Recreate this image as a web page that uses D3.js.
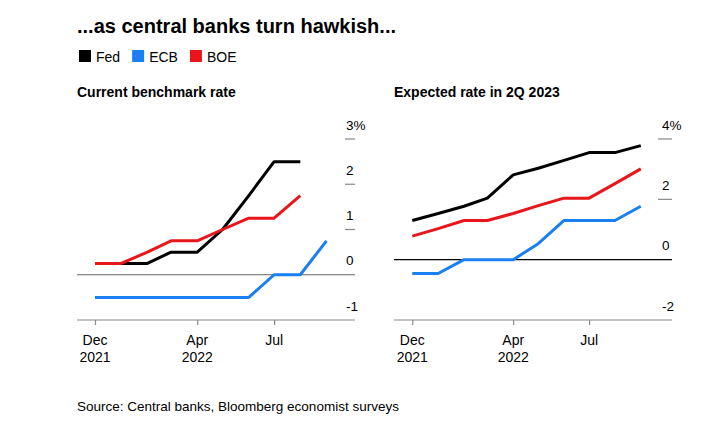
<!DOCTYPE html>
<html>
<head>
<meta charset="utf-8">
<script src="https://cdn.jsdelivr.net/npm/d3@7"></script>
<style>
  html, body { margin: 0; padding: 0; background: #fff; }
  svg { display: block; font-family: "Liberation Sans", Arial, sans-serif; }
</style>
</head>
<body>
<svg id="chart" width="713" height="435"></svg>
<script>
// ---- Data ----
const months = ["2021-12-01","2022-01-01","2022-02-01","2022-03-01","2022-04-01",
                "2022-05-01","2022-06-01","2022-07-01","2022-08-01","2022-09-01"];

// Current benchmark rate (%)
const currentFed = [0.25, 0.25, 0.25, 0.5, 0.5, 1.0, 1.75, 2.5, 2.5];
const currentECB = [-0.5, -0.5, -0.5, -0.5, -0.5, -0.5, -0.5, 0, 0, 0.75];
const currentBOE = [0.25, 0.25, 0.5, 0.75, 0.75, 1.0, 1.25, 1.25, 1.75];

// Expected rate in 2Q 2023 (%)
const expectedFed = [1.30, 1.53, 1.77, 2.04, 2.81, 3.03, 3.29, 3.55, 3.55, 3.78];
const expectedECB = [-0.46, -0.46, 0.0, 0.0, 0.0, 0.53, 1.30, 1.30, 1.30, 1.77];
const expectedBOE = [0.78, 1.03, 1.30, 1.30, 1.53, 1.79, 2.04, 2.04, 2.52, 3.01];

const seriesNames = ["Fed", "ECB", "BOE"];
const seriesColors = ["#000000", "#1a7ff0", "#e8161b"];

const leftTicks = [-1, 0, 1, 2, 3];
const rightTicks = [-2, 0, 2, 4];
const xTickDates = ["2021-12-01", "2022-04-01", "2022-07-01"];
const xTickLabels = [["Dec", "2021"], ["Apr", "2022"], ["Jul", ""]];

const titleText = "...as central banks turn hawkish...";
const leftSubtitle = "Current benchmark rate";
const rightSubtitle = "Expected rate in 2Q 2023";
const sourceText = "Source: Central banks, Bloomberg economist surveys";

// ---- Drawing ----
const parse = d3.timeParse("%Y-%m-%d");
const dates = months.map(parse);
const svg = d3.select("#chart");

svg.append("text").attr("x", 77).attr("y", 33).attr("font-size", 20)
  .attr("font-weight", "bold").attr("fill", "#000").text(titleText);

// legend
const legend = svg.append("g").attr("transform", "translate(79,50)");
let lx = 0;
seriesNames.forEach((name, i) => {
  const g = legend.append("g").attr("transform", `translate(${lx},0)`);
  g.append("rect").attr("width", 12).attr("height", 12).attr("fill", seriesColors[i]);
  const t = g.append("text").attr("x", 17).attr("y", 12).attr("font-size", 14)
    .attr("fill", "#000").text(name);
  lx += 17 + t.node().getComputedTextLength() + 12;
});

function panel(cfg) {
  const g = svg.append("g");
  g.append("text").attr("x", cfg.left).attr("y", 97).attr("font-size", 14)
    .attr("font-weight", "bold").attr("fill", "#000").text(cfg.subtitle);

  const x = d3.scaleTime().domain([dates[0], dates[9]]).range(cfg.xRange);
  const y = d3.scaleLinear().domain(cfg.yDomain).range([320, 139]);

  // y ticks (short dashes + labels above)
  cfg.yTicks.forEach(v => {
    if (v !== cfg.yDomain[0] && v !== 0) {
      g.append("line").attr("x1", cfg.tickX[0]).attr("x2", cfg.tickX[1])
        .attr("y1", y(v)).attr("y2", y(v)).attr("stroke", "#888").attr("stroke-width", 1.2);
    }
    g.append("text").attr("x", cfg.labelX).attr("y", y(v) - 9.5)
      .attr("font-size", 13.5).attr("fill", "#000")
      .text(v === cfg.yDomain[1] ? v + "%" : (v < 0 ? "-" + Math.abs(v) : v));
  });

  // zero line
  g.append("line").attr("x1", cfg.left).attr("x2", cfg.right)
    .attr("y1", y(0)).attr("y2", y(0)).attr("stroke", cfg.zeroColor).attr("stroke-width", 1.2);

  // bottom axis
  const xAxis = d3.axisBottom(x).tickValues(xTickDates.map(parse)).tickSize(5).tickFormat("");
  const ax = g.append("g").attr("transform", `translate(0,${y(cfg.yDomain[0])})`).call(xAxis);
  ax.select(".domain").remove();
  ax.selectAll(".tick line").attr("stroke", "#888").attr("stroke-width", 1.2);
  g.append("line").attr("x1", cfg.left).attr("x2", cfg.right)
    .attr("y1", y(cfg.yDomain[0])).attr("y2", y(cfg.yDomain[0]))
    .attr("stroke", "#888").attr("stroke-width", 1.2);

  xTickDates.forEach((d, i) => {
    const xx = x(parse(d));
    g.append("text").attr("x", xx).attr("y", 344.5).attr("text-anchor", "middle")
      .attr("font-size", 14).attr("fill", "#000").text(xTickLabels[i][0]);
    g.append("text").attr("x", xx).attr("y", 361.5).attr("text-anchor", "middle")
      .attr("font-size", 14).attr("fill", "#000").text(xTickLabels[i][1]);
  });

  const line = d3.line().x((d, i) => x(dates[i])).y(d => y(d));
  // draw order: ECB, Fed, BOE
  [[1, cfg.data[1]], [0, cfg.data[0]], [2, cfg.data[2]]].forEach(([ci, vals]) => {
    g.append("path").datum(vals).attr("d", line).attr("fill", "none")
      .attr("stroke", seriesColors[ci]).attr("stroke-width", 3)
      .attr("stroke-linejoin", "round").attr("stroke-linecap", "butt");
  });
}

panel({
  subtitle: leftSubtitle, left: 77, right: 355,
  xRange: [95, 326.5], yDomain: [-1, 3], yTicks: leftTicks,
  tickX: [345, 355], labelX: 346, zeroColor: "#666",
  data: [currentFed, currentECB, currentBOE]
});

panel({
  subtitle: rightSubtitle, left: 394, right: 672,
  xRange: [412.3, 640.8], yDomain: [-2, 4], yTicks: rightTicks,
  tickX: [658, 672], labelX: 662, zeroColor: "#000",
  data: [expectedFed, expectedECB, expectedBOE]
});

svg.append("text").attr("x", 77).attr("y", 411).attr("font-size", 13.5)
  .attr("fill", "#000").text(sourceText);
</script>
</body>
</html>
